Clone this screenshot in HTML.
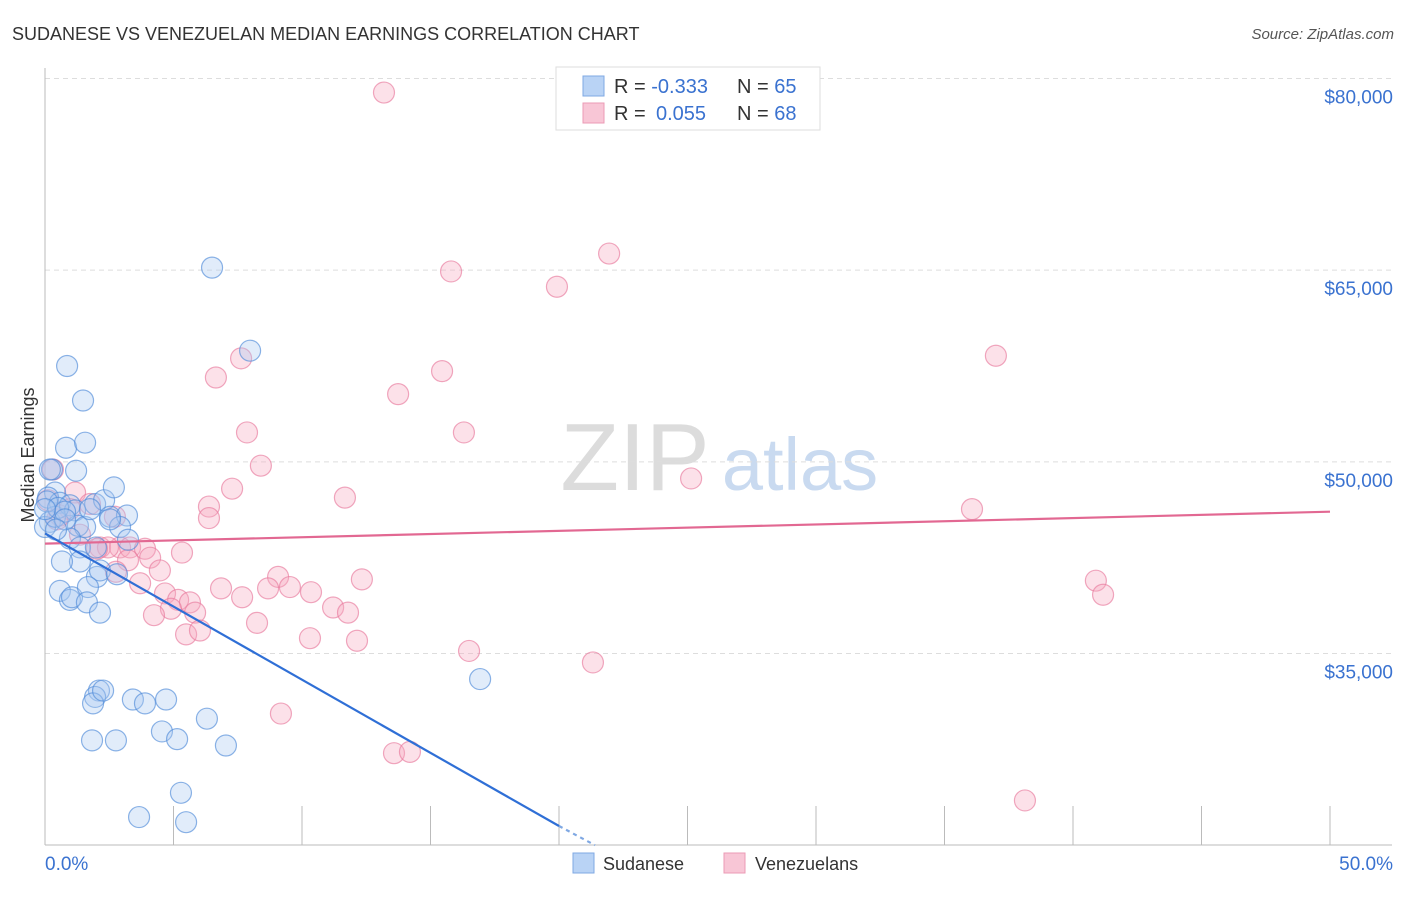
<!DOCTYPE html>
<html><head><meta charset="utf-8"><style>
body{margin:0;background:#fff;font-family:"Liberation Sans",sans-serif;}
svg text{font-family:"Liberation Sans",sans-serif;}
</style></head><body>
<svg id="c" width="1406" height="892" xmlns="http://www.w3.org/2000/svg">
<text x="12" y="40" font-size="18" fill="#333">SUDANESE VS VENEZUELAN MEDIAN EARNINGS CORRELATION CHART</text>
<text x="1394" y="39" font-size="15" fill="#555" font-style="italic" text-anchor="end">Source: ZipAtlas.com</text>
<g>
<text x="635" y="490" font-size="96" font-family="Liberation Serif" fill="#dcdcdc" text-anchor="middle">ZIP</text>
<text x="800" y="490" font-size="74" fill="#c9daf0" text-anchor="middle">atlas</text>
</g>
<g id="grid"></g><g id="axes"></g><g id="marks"></g>
<text x="34" y="455" font-size="18" fill="#333" text-anchor="middle" transform="rotate(-90 34 455)">Median Earnings</text>
<g>
<rect x="556" y="67" width="264" height="63" fill="#fff" stroke="#ddd"/>
<rect x="583" y="76" width="21" height="20" fill="#b9d3f5" stroke="#7fa8e3"/>
<rect x="583" y="103" width="21" height="20" fill="#f8c6d6" stroke="#eb9bb5"/>
<text x="614" y="93" font-size="20" fill="#333">R = <tspan fill="#3a72d0">-0.333</tspan><tspan x="737">N = </tspan><tspan fill="#3a72d0">65</tspan></text>
<text x="614" y="120" font-size="20" fill="#333">R = <tspan x="656" fill="#3a72d0">0.055</tspan><tspan x="737">N = </tspan><tspan fill="#3a72d0">68</tspan></text>
</g>
<g>
<rect x="573" y="853" width="21" height="20" fill="#b9d3f5" stroke="#7fa8e3"/>
<text x="603" y="870" font-size="18" fill="#333">Sudanese</text>
<rect x="724" y="853" width="21" height="20" fill="#f8c6d6" stroke="#eb9bb5"/>
<text x="755" y="870" font-size="18" fill="#333">Venezuelans</text>
</g>
</svg>
<script>
const yTicks=[35000,50000,65000,80000];
const yTickLabels=["$35,000","$50,000","$65,000","$80,000"];
const xTickVals=[0,5,10,15,20,25,30,35,40,45,50];
const blueX=[0.86,1.48,0.82,1.56,1.21,0.27,0.39,0.12,0.58,0.19,0,0.39,0.97,1.17,1.28,1.56,1.95,2.30,2.68,2.53,3.19,2.92,3.23,0.97,1.36,1.98,1.36,0.66,2.02,2.14,2.80,0.58,0.97,1.05,1.67,1.63,2.14,2.10,1.95,1.87,2.26,3.42,3.89,4.71,1.83,2.76,4.55,5.14,6.30,7.04,6.50,7.98,16.93,3.66,5.49,5.29,0.08,0.51,0.78,2.53,0.19,0,1.75,0.78,0.43];
const blueY=[57500,54800,51100,51500,49300,49400,47600,47200,46800,45300,44900,45700,46600,46200,45000,44900,46700,47000,48000,45700,45800,44900,43900,44000,43300,43300,42200,42200,41000,41500,41200,39900,39200,39400,40200,39000,38200,32100,31600,31100,32100,31400,31100,31400,28200,28200,28900,28300,29900,27800,65200,58700,33000,22200,21800,24100,46900,46400,46100,45500,49400,46300,46300,45500,44700];
const pinkX=[13.19,15.80,19.92,21.95,37.00,7.63,6.65,15.45,13.74,7.86,16.30,8.40,0.31,1.17,11.67,7.28,6.38,6.38,25.14,36.07,0.58,0.97,1.75,2.72,2.14,2.92,2.45,2.02,3.31,3.89,5.33,4.09,3.23,4.47,2.76,3.70,6.85,9.07,8.68,9.53,10.35,7.67,12.33,4.67,5.18,5.64,5.84,4.90,4.24,11.21,11.79,8.25,5.49,6.03,10.31,12.14,16.50,21.32,9.18,13.58,14.20,40.89,41.17,38.13,0.12,0.47,1.36];
const pinkY=[78900,64900,63700,66300,58300,58100,56600,57100,55300,52300,52300,49700,49400,47600,47200,47900,46500,45600,48700,46300,45800,46300,46700,45700,43300,43300,43300,43200,43300,43200,42900,42500,42300,41500,41400,40500,40100,41000,40100,40200,39800,39400,40800,39700,39200,39000,38200,38500,38000,38600,38200,37400,36500,36800,36200,36000,35200,34300,30300,27200,27300,40700,39600,23500,47000,45500,44300];
const blueTrend=[[0,44400],[20,21500]];
const blueTrendExt=[[20,21500],[21.4,20000]];
const pinkTrend=[[0,43600],[50,46100]];
const NS="http://www.w3.org/2000/svg";
const xs=v=>45+v*25.7;
const ys=v=>78.5+(80000-v)*0.012778;
function mk(tag,attrs,parent){const e=document.createElementNS(NS,tag);for(const k in attrs)e.setAttribute(k,attrs[k]);document.getElementById(parent).appendChild(e);return e;}
yTicks.forEach((t,i)=>{
  const g=mk('line',{x1:45,x2:1392,y1:ys(t),y2:ys(t),stroke:'#ddd','stroke-dasharray':'5,4'},'grid');
  
  
  const tx=mk('text',{x:1393,y:ys(t)+25,'font-size':19,fill:'#3a72d0','text-anchor':'end'},'grid');
  tx.textContent=yTickLabels[i];
  
  
});
const ax=mk('line',{x1:45,x2:45,y1:68,y2:845,stroke:'#bbb'},'axes');


const bx=mk('line',{x1:45,x2:1392,y1:845,y2:845,stroke:'#bbb'},'axes');


xTickVals.forEach(v=>{
  const t=mk('line',{x1:xs(v),x2:xs(v),y1:806,y2:845,stroke:'#bbb'},'axes');
  
  
});
const l0=mk('text',{x:45,y:870,'font-size':19,fill:'#3a72d0'},'axes');l0.textContent='0.0%';


const l1=mk('text',{x:1393,y:870,'font-size':19,fill:'#3a72d0','text-anchor':'end'},'axes');l1.textContent='50.0%';


function pts(X,Y,fill,stroke,name){X.forEach((x,i)=>{
  const c=mk('circle',{cx:xs(x),cy:ys(Y[i]),r:10.5,fill:fill,'fill-opacity':0.35,stroke:stroke,'stroke-opacity':0.65,'stroke-width':1.2},'marks');
  
  
});}
pts(pinkX,pinkY,'#f5a9c1','#e8799c','venezuelan-point');
pts(blueX,blueY,'#a9c8f0','#4f8ad8','sudanese-point');
function line(p,color,dash,name){const e=mk('line',{x1:xs(p[0][0]),y1:ys(p[0][1]),x2:xs(p[1][0]),y2:ys(p[1][1]),stroke:color,'stroke-width':2.2},'marks');
  if(dash)e.setAttribute('stroke-dasharray',dash);
  
  }
line(pinkTrend,'#e26892',null,'venezuelan-trendline');
line(blueTrend,'#2f6fd6',null,'sudanese-trendline');
line(blueTrendExt,'#7fa8e3','4,4','sudanese-trendline-extension');
</script>
</body></html>
